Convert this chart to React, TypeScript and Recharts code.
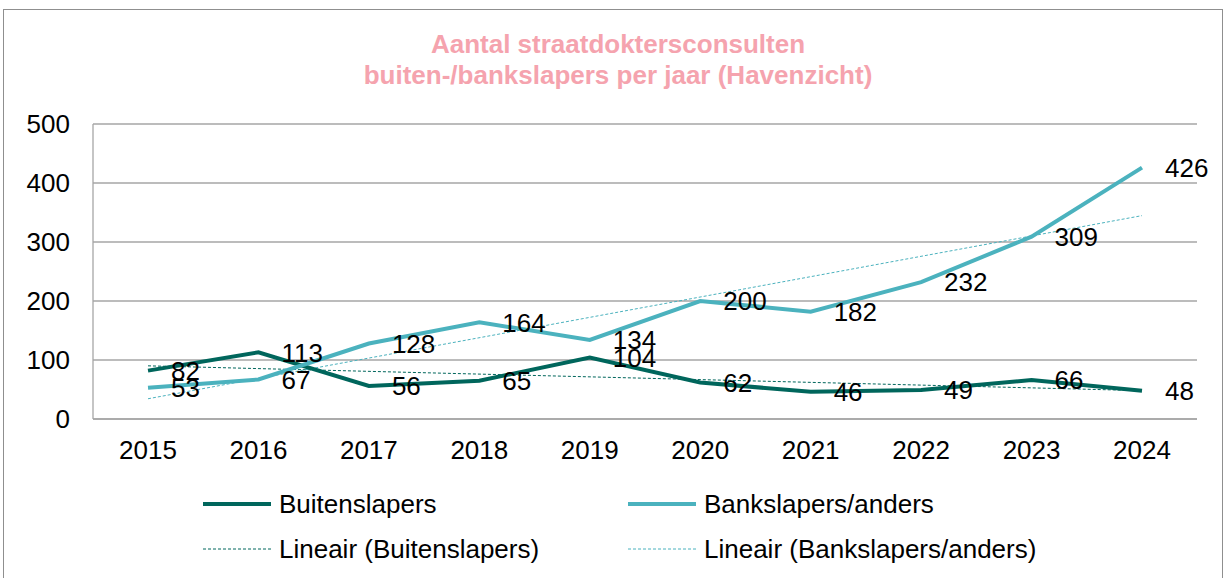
import React from 'react'
import {
  LineChart,
  Line,
  XAxis,
  YAxis,
  CartesianGrid,
  LabelList,
} from 'recharts'

const years = ['2015', '2016', '2017', '2018', '2019', '2020', '2021', '2022', '2023', '2024']
const buitenslapers = [82, 113, 56, 65, 104, 62, 46, 49, 66, 48]
const bankslapers = [53, 67, 128, 164, 134, 200, 182, 232, 309, 426]
// start/end values of the linear trend lines (2015 and 2024)
const buitenTrend = [90.1, 48.1]
const banksTrend = [34.3, 344.7]
const yTicks = [0, 100, 200, 300, 400, 500]

const DARK = '#00665C'
const TEAL = '#4BB2BE'
const GRID = '#A6A6A6'
const FONT = '"Liberation Sans", Arial, sans-serif'

const last = years.length - 1
const data = years.map((year, i) => ({
  year,
  buiten: buitenslapers[i],
  banks: bankslapers[i],
  buitenTrend: i === 0 ? buitenTrend[0] : i === last ? buitenTrend[1] : null,
  banksTrend: i === 0 ? banksTrend[0] : i === last ? banksTrend[1] : null,
}))

const renderLabel = (props: any) => {
  const { x, y, value } = props
  return (
    <text x={x + 23} y={y} dy="0.36em" fontSize={26} fill="#000" fontFamily={FONT}>
      {value}
    </text>
  )
}

const legendItems = [
  { name: 'Buitenslapers', color: DARK, dashed: false, left: 203, top: 504 },
  { name: 'Bankslapers/anders', color: TEAL, dashed: false, left: 628, top: 504 },
  { name: 'Lineair (Buitenslapers)', color: DARK, dashed: true, left: 203, top: 549 },
  { name: 'Lineair (Bankslapers/anders)', color: TEAL, dashed: true, left: 628, top: 549 },
]

export default function App() {
  return (
    <div
      style={{
        position: 'absolute',
        left: 0,
        top: 0,
        width: 1225,
        height: 578,
        overflow: 'hidden',
        background: '#fff',
        fontFamily: FONT,
      }}
    >
      <div
        style={{
          position: 'absolute',
          left: 3,
          top: 9,
          width: 1218,
          height: 600,
          border: '1.5px solid #8f8f8f',
        }}
      />
      <div
        style={{
          position: 'absolute',
          left: 0,
          top: 29,
          width: 1236,
          textAlign: 'center',
          color: '#F5A3AE',
          fontWeight: 'bold',
          fontSize: 26,
          lineHeight: '31px',
        }}
      >
        Aantal straatdoktersconsulten
        <br />
        buiten-/bankslapers per jaar (Havenzicht)
      </div>
      <LineChart
        width={1225}
        height={578}
        data={data}
        margin={{ top: 124, right: 28, left: 0, bottom: 99 }}
        style={{ position: 'absolute', left: 0, top: 0 }}
      >
        <CartesianGrid vertical={false} stroke={GRID} strokeWidth={1.3} />
        <XAxis
          dataKey="year"
          height={60}
          padding={{ left: 55, right: 55 }}
          axisLine={{ stroke: GRID, strokeWidth: 1.3 }}
          tickLine={false}
          tickSize={0}
          tickMargin={22}
          tick={{ fill: '#000', fontSize: 26, fontFamily: FONT }}
        />
        <YAxis
          width={93}
          domain={[0, 500]}
          ticks={yTicks}
          axisLine={{ stroke: GRID, strokeWidth: 1.3 }}
          tickLine={false}
          tickSize={0}
          tickMargin={23}
          tick={{ fill: '#000', fontSize: 26, fontFamily: FONT }}
        />
        <Line
          dataKey="buitenTrend"
          stroke={DARK}
          strokeWidth={1}
          strokeDasharray="3 2"
          dot={false}
          connectNulls
          isAnimationActive={false}
        />
        <Line
          dataKey="banksTrend"
          stroke={TEAL}
          strokeWidth={1}
          strokeDasharray="3 2"
          dot={false}
          connectNulls
          isAnimationActive={false}
        />
        <Line
          dataKey="buiten"
          stroke={DARK}
          strokeWidth={4}
          dot={false}
          isAnimationActive={false}
        >
          <LabelList dataKey="buiten" content={renderLabel} />
        </Line>
        <Line
          dataKey="banks"
          stroke={TEAL}
          strokeWidth={4}
          dot={false}
          isAnimationActive={false}
        >
          <LabelList dataKey="banks" content={renderLabel} />
        </Line>
      </LineChart>
      {legendItems.map((item) => (
        <div
          key={item.name}
          style={{
            position: 'absolute',
            left: item.left,
            top: item.top - 16,
            height: 32,
            display: 'flex',
            alignItems: 'center',
            fontSize: 26,
            color: '#000',
            whiteSpace: 'nowrap',
          }}
        >
          <svg width={70} height={8} style={{ marginRight: 6 }}>
            <line
              x1={0}
              y1={4}
              x2={68}
              y2={4}
              stroke={item.color}
              strokeWidth={item.dashed ? 1 : 4}
              strokeDasharray={item.dashed ? '3 2' : undefined}
            />
          </svg>
          {item.name}
        </div>
      ))}
    </div>
  )
}
